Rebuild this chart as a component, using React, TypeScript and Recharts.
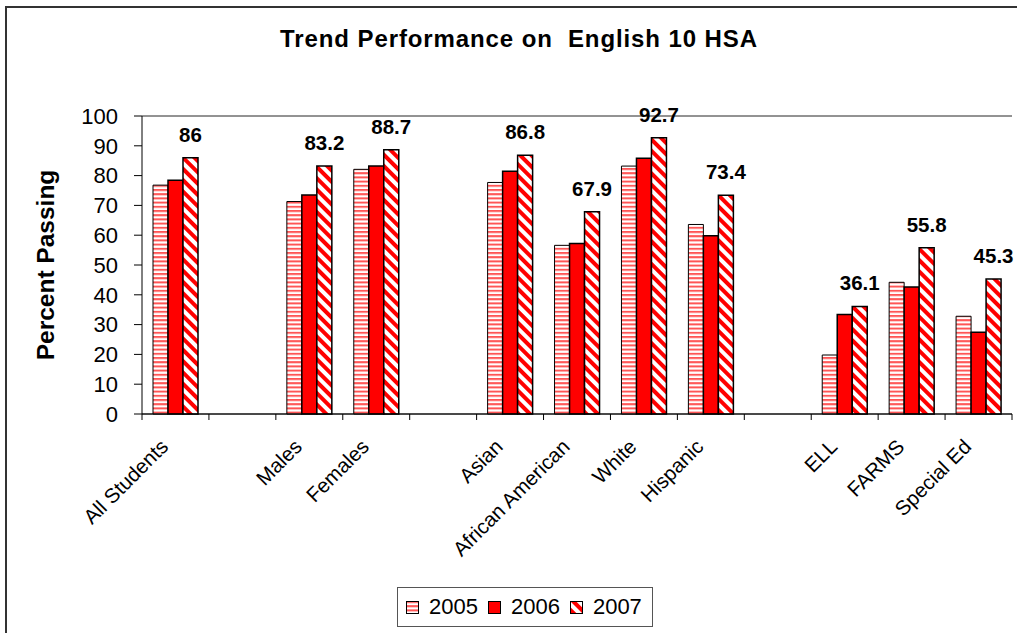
import React from 'react';
import { BarChart, Bar, XAxis, YAxis, CartesianGrid, LabelList } from 'recharts';

const categories = ['All Students', '', 'Males', 'Females', '', 'Asian', 'African American', 'White', 'Hispanic', '', 'ELL', 'FARMS', 'Special Ed'];
const v2005 = [76.8, null, 71.3, 82.1, null, 77.7, 56.6, 83.2, 63.6, null, 19.8, 44.2, 32.8];
const v2006 = [78.4, null, 73.5, 83.2, null, 81.5, 57.2, 85.8, 59.8, null, 33.4, 42.6, 27.4];
const v2007 = [86, null, 83.2, 88.7, null, 86.8, 67.9, 92.7, 73.4, null, 36.1, 55.8, 45.3];
const yTicks = [0, 10, 20, 30, 40, 50, 60, 70, 80, 90, 100];
const seriesNames = ['2005', '2006', '2007'];

const data = categories.map((c, i) => ({ name: c, y2005: v2005[i], y2006: v2006[i], y2007: v2007[i] }));

const FONT = "Arial, 'Liberation Sans', sans-serif";
const W = 1017;
const H = 633;
const PLOT_LEFT = 142;
const PLOT_RIGHT = 1012;
const BAND = (PLOT_RIGHT - PLOT_LEFT) / categories.length;

const fills = ['url(#p2005)', '#ff0000', 'url(#p2007)'];

const XTick = (props: any) => {
  const { x, y, payload, index } = props;
  const left = x - BAND / 2;
  const isLast = index === categories.length - 1;
  return (
    <g>
      <line x1={left} y1={y} x2={left} y2={y + 6} stroke="#000" />
      {isLast && <line x1={x + BAND / 2} y1={y} x2={x + BAND / 2} y2={y + 6} stroke="#000" />}
      {payload.value ? (
        <text
          x={x - 6}
          y={y + 34}
          textAnchor="end"
          transform={`rotate(-45 ${x - 6} ${y + 34})`}
          fontSize={20.5}
          fontFamily={FONT}
          fill="#000"
        >
          {payload.value}
        </text>
      ) : null}
    </g>
  );
};

const ValueLabel = (props: any) => {
  const { x, y, width, value } = props;
  if (value === null || value === undefined) return null;
  return (
    <text x={x + width / 2} y={y - 16} textAnchor="middle" fontSize={20.5} fontWeight="bold" fontFamily={FONT} fill="#000">
      {value}
    </text>
  );
};

const LegendBox = () => (
  <div
    style={{
      position: 'absolute',
      left: 397,
      top: 587,
      width: 256,
      height: 40,
      boxSizing: 'border-box',
      border: '1px solid #555',
      background: '#fff',
      display: 'flex',
      alignItems: 'center',
      paddingLeft: 8,
      fontFamily: FONT,
      fontSize: 22,
      color: '#000',
    }}
  >
    {seriesNames.map((n, i) => (
      <div key={n} style={{ display: 'flex', alignItems: 'center', marginRight: 10 }}>
        <svg width={13} height={13} style={{ marginRight: 10 }}>
          <rect x={0.5} y={0.5} width={12} height={12} fill={fills[i]} stroke="#000" />
        </svg>
        <span>{n}</span>
      </div>
    ))}
  </div>
);

export default function App() {
  return (
    <div style={{ position: 'absolute', left: 0, top: 0, width: W, height: H, overflow: 'hidden', background: '#fff' }}>
      <div
        style={{
          position: 'absolute',
          left: 5,
          top: 6,
          width: W + 50,
          height: H + 50,
          borderLeft: '2px solid #333',
          borderTop: '2px solid #333',
        }}
      />
      <div style={{ position: 'absolute', left: 0, top: 0 }}>
        <BarChart
          width={W}
          height={H}
          data={data}
          margin={{ top: 116, right: W - PLOT_RIGHT, bottom: 99, left: PLOT_LEFT - 60 }}
          barGap={0}
          barSize={15}
        >
          <defs>
            <pattern id="p2005" patternUnits="userSpaceOnUse" width={8} height={4.2}>
              <rect x={0} y={0} width={8} height={4.2} fill="#fff" />
              <rect x={0} y={0} width={8} height={2} fill="#ff5555" />
            </pattern>
            <pattern id="p2007" patternUnits="userSpaceOnUse" width={8} height={8} patternTransform="rotate(-45)">
              <rect x={0} y={0} width={8} height={8} fill="#fff" />
              <rect x={0} y={0} width={4} height={8} fill="#ff0000" />
            </pattern>
          </defs>
          <CartesianGrid vertical={false} stroke="#000" strokeOpacity={0.85} />
          <XAxis
            dataKey="name"
            interval={0}
            height={120}
            tickLine={false}
            tickSize={0}
            tickMargin={0}
            axisLine={{ stroke: '#000' }}
            tick={<XTick />}
          />
          <YAxis
            yAxisId="left"
            domain={[0, 100]}
            ticks={yTicks}
            width={60}
            tickSize={8}
            tickMargin={16}
            axisLine={{ stroke: '#000' }}
            tickLine={{ stroke: '#000' }}
            tick={{ fontSize: 22, fontFamily: FONT, fill: '#000' }}
            interval={0}
          />
          <YAxis
            yAxisId="right"
            orientation="right"
            domain={[0, 100]}
            width={0}
            tick={false}
            tickLine={false}
            axisLine={{ stroke: '#555' }}
          />
          <Bar yAxisId="left" dataKey="y2005" name="2005" fill={fills[0]} stroke="#000" strokeWidth={1} isAnimationActive={false} />
          <Bar yAxisId="left" dataKey="y2006" name="2006" fill={fills[1]} stroke="#000" strokeWidth={1.5} isAnimationActive={false} />
          <Bar yAxisId="left" dataKey="y2007" name="2007" fill={fills[2]} stroke="#000" strokeWidth={1.5} isAnimationActive={false}>
            <LabelList dataKey="y2007" content={<ValueLabel />} />
          </Bar>
        </BarChart>
      </div>
      <LegendBox />
      <svg style={{ position: 'absolute', left: 0, top: 0, pointerEvents: 'none' }} width={W} height={H}>
        <text x={519} y={47} textAnchor="middle" fontSize={24} fontWeight="bold" fontFamily={FONT} fill="#000" style={{ whiteSpace: 'pre' }} letterSpacing={0.9}>
          {'Trend Performance on  English 10 HSA'}
        </text>
        <text
          x={54}
          y={265}
          textAnchor="middle"
          transform="rotate(-90 54 265)"
          fontSize={24.5}
          fontWeight="bold"
          fontFamily={FONT}
          fill="#000"
        >
          Percent Passing
        </text>
      </svg>
    </div>
  );
}
